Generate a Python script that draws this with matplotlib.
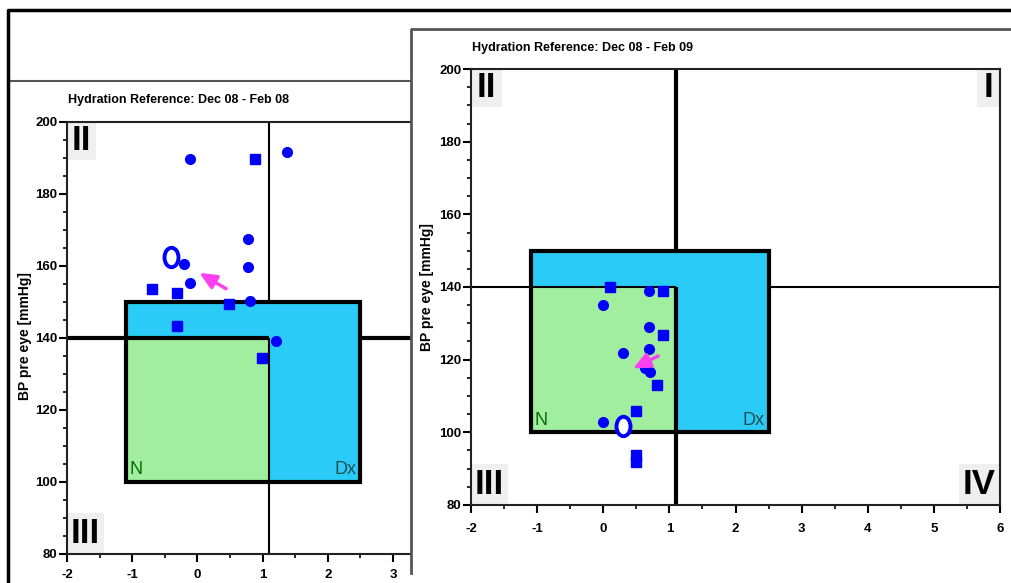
import matplotlib
matplotlib.use("Agg")
import matplotlib.pyplot as plt
from matplotlib.patches import Rectangle
from matplotlib.lines import Line2D
from matplotlib.path import Path
from matplotlib.transforms import Affine2D
from matplotlib.ticker import MultipleLocator

plt.rcParams['axes.unicode_minus'] = False

W, H = 1011, 583

# ---------------- data ----------------
title_left = "Hydration Reference: Dec 08 - Feb 08"
title_right = "Hydration Reference: Dec 08 - Feb 09"
y_label = "BP pre eye [mmHg]"

# reference zones: x0, x1, y0, y1
blue_zone = (-1.1, 2.5, 100, 150)
green_zone = (-1.1, 1.1, 100, 140)
ref_x = 1.1
ref_y = 140

left_x = [-0.11, 0.89, 1.38, 0.78, 0.78, -0.21, -0.11, -0.70, -0.31, 0.49, 0.80, -0.31, 1.20, 0.99]
left_y = [189.6, 189.6, 191.6, 167.4, 159.5, 160.4, 155.3, 153.4, 152.3, 149.3, 150.2, 143.3, 139.1, 134.5]
left_start = (-0.40, 162.5)
left_arrow_from = (0.44, 153.6)
left_arrow_to = (0.03, 158.0)

right_x = [0.10, 0.69, 0.91, 0.00, 0.69, 0.91, 0.30, 0.69, 0.63, 0.70, 0.81, 0.50, 0.00, 0.50, 0.50]
right_y = [140.0, 139.0, 139.0, 135.0, 129.0, 126.8, 121.8, 122.9, 117.7, 116.7, 112.9, 105.9, 102.8, 93.8, 91.8]
right_start = (0.30, 101.8)
right_arrow_from = (0.83, 121.0)
right_arrow_to = (0.45, 117.6)

# marker shapes (style only)
left_marks = ['o', 's', 'o', 'o', 'o', 'o', 'o', 's', 's', 's', 'o', 's', 'o', 's']
right_marks = ['s', 'o', 's', 'o', 'o', 's', 'o', 'o', 'o', 'o', 's', 's', 'o', 's', 's']

BLUE_FILL = '#2bcbf7'
GREEN_FILL = '#a1ee9f'
PT = '#0000ff'
PINK = '#ff40f0'
QBOX = '#efefef'
TICKFONT = ['Liberation Sans', 'DejaVu Sans']
NARROW = ['Liberation Sans Narrow', 'Liberation Sans', 'DejaVu Sans']


def fx(px):
    return px / W


def fy(py):
    return 1 - py / H


def ax_rect(x0, y0, x1, y1):
    # pixel box (left, top, right, bottom) -> figure fraction
    return [fx(x0), fy(y1), (x1 - x0) / W, (y1 - y0) / H]


oval = Path.unit_circle().transformed(Affine2D().scale(0.72, 1.0))


def draw_chart(ax, xs, ys, marks, start, a_from, a_to, h_lw, v_lw, quads, xlim, xpad):
    ax.set_xlim(*xlim)
    ax.set_ylim(80, 200)
    ax.set_facecolor('white')

    bx0, bx1, by0, by1 = blue_zone
    gx0, gx1, gy0, gy1 = green_zone

    ax.axhline(ref_y, color='black', lw=h_lw, zorder=1)
    ax.axvline(ref_x, color='black', lw=v_lw, zorder=1)
    ax.add_patch(Rectangle((bx0, by0), bx1 - bx0, by1 - by0, facecolor=BLUE_FILL,
                           edgecolor='none', zorder=2))
    ax.add_patch(Rectangle((gx0, gy0), gx1 - gx0, gy1 - gy0, facecolor=GREEN_FILL,
                           edgecolor='none', zorder=3))
    ax.plot([gx0, gx1], [gy1, gy1], color='black', lw=h_lw, zorder=4, solid_capstyle='butt')
    ax.plot([gx1, gx1], [gy0, gy1], color='black', lw=v_lw, zorder=4, solid_capstyle='butt')
    ax.add_patch(Rectangle((bx0, by0), bx1 - bx0, by1 - by0, facecolor='none',
                           edgecolor='black', lw=3, zorder=5))

    ax.text(gx0 + 0.06, gy0 + 1.0, 'N', color='#0b6a0b', fontsize=13,
            family=NARROW, ha='left', va='bottom', zorder=6)
    ax.text(bx1 - 0.06, by0 + 1.0, 'Dx', color='#1f4f55', fontsize=13,
            family=NARROW, ha='right', va='bottom', zorder=6)

    for x, y, m in zip(xs, ys, marks):
        ax.plot(x, y, marker=m, color=PT, ms=7 if m == 'o' else 6.5, ls='none', zorder=8)
    ax.plot(*start, marker=oval, ms=14, mfc='white', mec=PT, mew=2.8, ls='none', zorder=9)
    ax.annotate('', xy=a_to, xytext=a_from, zorder=9,
                arrowprops=dict(arrowstyle='-|>,head_length=1.0,head_width=0.45',
                                color=PINK, lw=2.5, shrinkA=0, shrinkB=0))

    # quadrant labels in grey boxes (axes fraction)
    for label, x0, y0, w, h in quads:
        ax.add_patch(Rectangle((x0, y0), w, h, transform=ax.transAxes,
                               facecolor=QBOX, edgecolor='none', zorder=0.5))
        ax.text(x0 + w / 2, y0 + h / 2, label, transform=ax.transAxes, ha='center',
                va='center', fontsize=25, fontweight='bold', family=TICKFONT, zorder=6)

    ax.xaxis.set_major_locator(MultipleLocator(1))
    ax.xaxis.set_minor_locator(MultipleLocator(0.5))
    ax.yaxis.set_major_locator(MultipleLocator(20))
    ax.yaxis.set_minor_locator(MultipleLocator(5))
    ax.tick_params(which='major', direction='out', length=6, width=1.5, colors='black')
    ax.tick_params(which='minor', direction='out', length=3, width=1.2)
    ax.tick_params(axis='y', which='major', pad=1)
    ax.tick_params(axis='x', which='major', pad=xpad)
    for lab in ax.get_xticklabels() + ax.get_yticklabels():
        lab.set_family(TICKFONT)
        lab.set_fontweight('bold')
        lab.set_fontsize(9.5)
    for s in ax.spines.values():
        s.set_linewidth(1.5)
        s.set_color('#222222')


fig = plt.figure(figsize=(W / 100, H / 100), dpi=100)

# ---- left (background) window ----
axL = fig.add_axes(ax_rect(67, 121.5, 430, 554), zorder=0)
draw_chart(axL, left_x, left_y, left_marks, left_start, left_arrow_from, left_arrow_to,
           h_lw=3, v_lw=1.5,
           quads=[('II', 0, 1 - 0.088, 0.080, 0.088), ('III', 0, 0, 0.102, 0.095)],
           xlim=(-2, -2 + 363 / 65.2), xpad=5)

fig.add_artist(Line2D([fx(8), fx(411)], [fy(81), fy(81)], transform=fig.transFigure,
                      color='#555555', lw=1.5, zorder=0.5))
fig.text(fx(68), fy(100), title_left, fontsize=9, fontweight='bold', family=NARROW,
         ha='left', va='center', zorder=3)
fig.text(fx(25), fy(336), y_label, rotation=90, fontsize=10, fontweight='bold',
         family=TICKFONT, ha='center', va='center', zorder=3)

# ---- right (front) window ----
fig.add_artist(Rectangle((fx(411), fy(573)), 1 - fx(411), fy(29) - fy(573),
                         transform=fig.transFigure, facecolor='white', edgecolor='none', zorder=1))
fig.add_artist(Line2D([fx(411), fx(411), fx(W)], [fy(573), fy(29), fy(29)],
                      transform=fig.transFigure, color='#555555', lw=2, zorder=1.1))

axR = fig.add_axes(ax_rect(471, 69, 1000, 505), zorder=2)
draw_chart(axR, right_x, right_y, right_marks, right_start, right_arrow_from, right_arrow_to,
           h_lw=1.5, v_lw=3,
           quads=[('II', 0, 1 - 0.087, 0.059, 0.087), ('III', 0, 0, 0.070, 0.094),
                  ('IV', 1 - 0.0775, 0, 0.0775, 0.094), ('I', 1 - 0.0435, 1 - 0.087, 0.0435, 0.087)],
           xlim=(-2, 6), xpad=7)

fig.text(fx(472), fy(48), title_right, fontsize=9, fontweight='bold', family=NARROW,
         ha='left', va='center', zorder=3)
fig.text(fx(427), fy(287), y_label, rotation=90, fontsize=10, fontweight='bold',
         family=TICKFONT, ha='center', va='center', zorder=3)

# ---- outer frame ----
fig.add_artist(Line2D([fx(8), fx(8), fx(W)], [fy(H), fy(10), fy(10)],
                      transform=fig.transFigure, color='black', lw=2.5, zorder=4))

fig.savefig('out.png', dpi=100)
